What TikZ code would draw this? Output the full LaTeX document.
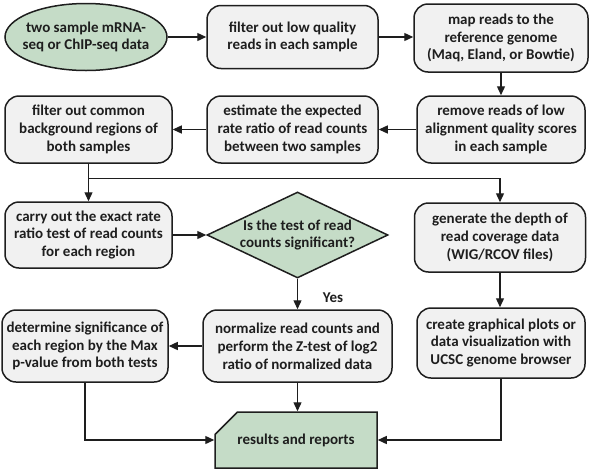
\documentclass[tikz,border=0pt]{standalone}
\usepackage{fontspec}
\setmainfont{Carlito}
\usetikzlibrary{shapes.geometric,shapes.misc,arrows.meta}
\definecolor{boxfill}{HTML}{F1F1F1}
\definecolor{grn}{HTML}{C5DCC7}
\definecolor{ink}{HTML}{1E1E1E}
\begin{document}
\begin{tikzpicture}[x=1pt,y=-1pt,
  txt/.style={font=\fontsize{15}{17.8}\selectfont\bfseries, text=ink, align=center},
  proc/.style={txt, draw=ink, line width=1.5pt, fill=boxfill, rounded corners=14pt, inner sep=0pt},
  startnode/.style={draw=ink, line width=1.5pt, fill=grn, ellipse, inner sep=0pt, minimum width=162pt, minimum height=67pt},
  decision/.style={draw=ink, line width=1.5pt, fill=grn, diamond, inner sep=0pt, minimum width=181pt, minimum height=86pt},
  outnode/.style={txt, draw=ink, line width=1.5pt, fill=grn, chamfered rectangle, chamfered rectangle corners=north west, chamfered rectangle xsep=17pt, chamfered rectangle ysep=16pt, inner sep=0pt, minimum width=162pt, minimum height=56pt},
  arr/.style={draw=ink, line width=1.3pt, -{Triangle[length=9pt,width=8pt]}}
]
\useasboundingbox (0,0) rectangle (589,469);

% row 1
\node[startnode, label={[txt]center:two sample mRNA-\\seq or ChIP-seq data}] (start) at (86,37) {};
\node[proc, minimum width=171pt, minimum height=63pt] (f1) at (292.5,37) {filter out low quality\\reads in each sample};
\node[proc, minimum width=174pt, minimum height=68pt] (map) at (501,38) {map reads to the\\reference genome\\(Maq, Eland, or Bowtie)};

% row 2
\node[proc, minimum width=168pt, minimum height=67pt] (rem) at (501,129.5) {remove reads of low\\alignment quality scores\\in each sample};
\node[proc, minimum width=171pt, minimum height=67pt] (est) at (292.5,129.5) {estimate the expected\\rate ratio of read counts\\between two samples};
\node[proc, minimum width=167pt, minimum height=67pt] (fc) at (88.5,129.5) {filter out common\\background regions of\\both samples};

% row 3
\node[proc, minimum width=167pt, minimum height=66pt] (carry) at (88.5,235) {carry out the exact rate\\ratio test of read counts\\for each region};
\node[decision, label={[txt]center:Is the test of read\\counts significant?}] (dia) at (297.5,235) {};
\node[proc, minimum width=171pt, minimum height=69pt] (gen) at (500,237.5) {generate the depth of\\read coverage data\\(WIG/RCOV files)};

% row 4
\node[proc, minimum width=166pt, minimum height=72pt] (det) at (85,346) {determine significance of\\each region by the Max\\p-value from both tests};
\node[proc, minimum width=189pt, minimum height=72pt] (norm) at (297.5,346) {normalize read counts and\\perform the Z-test of log2\\ratio of normalized data};
\node[proc, minimum width=168pt, minimum height=70pt] (cre) at (501,343) {create graphical plots or\\data visualization with\\UCSC genome browser};

% results
\node[outnode] (res) at (296,440) {results and reports};
\node[txt] (yes) at (333,298) {Yes};

% connectors
\draw[arr] (start) -- (f1);
\draw[arr] (f1.east) -- (f1.east -| map.west);
\draw[arr] (map) -- (rem);
\draw[arr] (rem) -- (est);
\draw[arr] (est) -- (fc);
\path (fc.south) ++(0,15) coordinate (j);
\draw[arr] (fc.south) -- (carry.north);
\draw[arr] (j) -| (gen.north);
\draw[arr] (carry.east) -- (dia.west);
\draw[arr] (dia.south) -- (norm.north);
\draw[arr] (gen.south) -- (gen.south |- cre.north);
\draw[arr] (norm.west) -- (det.east);
\draw[arr] (det.south) |- (res.west);
\draw[arr] (norm.south) -- (norm.south |- res.north);
\draw[arr] (cre.south) |- (res.east);
\end{tikzpicture}
\end{document}
